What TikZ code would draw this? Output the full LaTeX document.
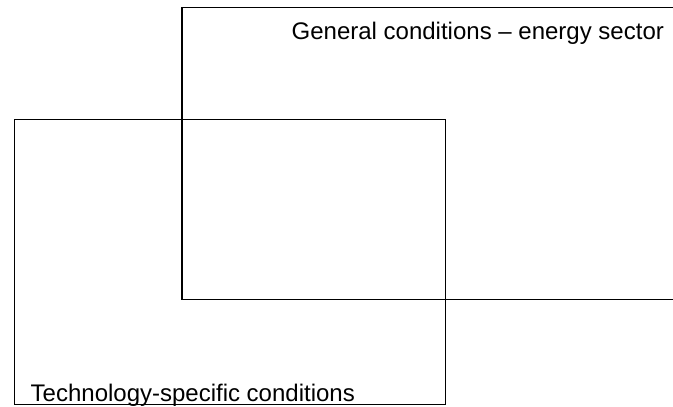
\documentclass[tikz,border=0pt]{standalone}
\usepackage{fontspec}
\setmainfont{Liberation Sans}
\begin{document}
\begin{tikzpicture}[x=1pt,y=-1pt,
  boxA/.style={draw=black,line width=1.6pt,rectangle,inner sep=0pt,anchor=north west},
  boxB/.style={draw=black,line width=1.1pt,rectangle,inner sep=0pt,anchor=north west},
  lbl/.style={inner sep=0pt,anchor=base west,font=\fontsize{24}{28}\selectfont}]
\useasboundingbox (0,0) rectangle (673,407);
\clip (0,0) rectangle (673,407);
\node[boxA,minimum width=540pt,minimum height=292pt] (gen) at (181,6.5) {};
\node[boxB,minimum width=431.5pt,minimum height=285.5pt] (tech) at (13.5,118.5) {};
\node[lbl] (genl) at (291.5,39.5) {General conditions – energy sector};
\node[lbl] (techl) at (30.5,401) {Technology-specific conditions};
\end{tikzpicture}
\end{document}
